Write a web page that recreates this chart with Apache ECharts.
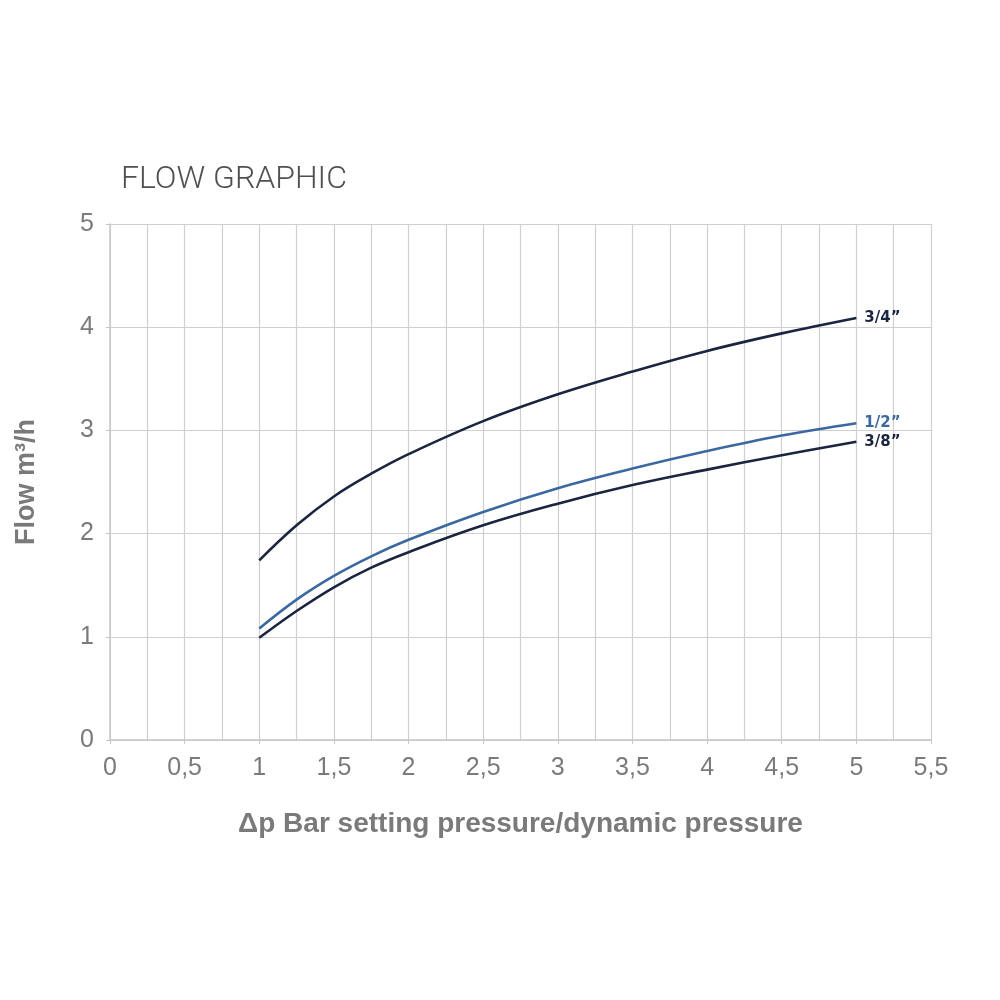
<!DOCTYPE html>
<html><head><meta charset="utf-8">
<script src="https://cdn.jsdelivr.net/npm/echarts@6/dist/echarts.min.js"></script>
<style>html,body{margin:0;padding:0;background:#fff}#c{width:1000px;height:1000px}</style>
</head><body><div id="c"></div>
<script>
const xValues = [1, 1.25, 1.5, 1.75, 2, 2.5, 3, 3.5, 4, 4.5, 5];
const flow34 = [1.74, 2.08, 2.36, 2.58, 2.77, 3.09, 3.35, 3.57, 3.77, 3.94, 4.09];
const flow12 = [1.08, 1.36, 1.59, 1.78, 1.94, 2.21, 2.44, 2.63, 2.80, 2.95, 3.07];
const flow38 = [0.99, 1.25, 1.48, 1.67, 1.82, 2.08, 2.29, 2.47, 2.62, 2.76, 2.89];
const seriesNames = ['3/4\u201d', '1/2\u201d', '3/8\u201d'];
const seriesColors = ['#1c2540', '#3b68a0', '#1c2540'];

const pair = (ys) => xValues.map((x, i) => [x, ys[i]]);
const allData = [flow34, flow12, flow38];

const chart = echarts.init(document.getElementById('c'));
chart.setOption({
  animation: false,
  title: {
    text: 'FLOW GRAPHIC', left: 116, top: 159,
    textStyle: { fontFamily: 'Roboto', fontWeight: 300, fontSize: 32, color: '#505050' }
  },
  grid: { left: 110, right: 69, top: 224, bottom: 260 },
  xAxis: {
    type: 'value', min: 0, max: 5.5, interval: 0.5,
    name: '\u0394p Bar setting pressure/dynamic pressure',
    nameLocation: 'middle', nameGap: 70,
    nameTextStyle: { fontFamily: 'Liberation Sans', fontWeight: 'bold', fontSize: 28, color: '#7a7a7a' },
    axisLine: { show: true, lineStyle: { color: '#c8c8c8', width: 1.5 } },
    axisTick: { show: true, length: 4, lineStyle: { color: '#c8c8c8' } },
    axisLabel: {
      margin: 16, fontFamily: 'Liberation Sans', fontSize: 25, color: '#7a7a7a',
      formatter: (v) => String(v).replace('.', ',')
    },
    splitLine: { show: true, lineStyle: { color: '#cfcfcf', width: 1.2 } },
    minorTick: { show: false, splitNumber: 2 },
    minorSplitLine: { show: true, lineStyle: { color: '#cfcfcf', width: 1.2 } }
  },
  yAxis: {
    type: 'value', min: 0, max: 5, interval: 1,
    name: 'Flow m\u00b3/h', nameLocation: 'middle', nameGap: 70, nameRotate: 90,
    nameTextStyle: { fontFamily: 'Liberation Sans', fontWeight: 'bold', fontSize: 27, color: '#7a7a7a' },
    axisLine: { show: true, lineStyle: { color: '#c8c8c8', width: 1.5 } },
    axisTick: { show: true, length: 4, lineStyle: { color: '#c8c8c8' } },
    axisLabel: { margin: 16, fontFamily: 'Liberation Sans', fontSize: 25, color: '#7a7a7a' },
    splitLine: { show: true, lineStyle: { color: '#cfcfcf', width: 1.2 } }
  },
  series: seriesNames.map((n, i) => ({
    name: n, type: 'line', smooth: 0.4, symbol: 'none',
    data: pair(allData[i]),
    lineStyle: { color: seriesColors[i], width: 2.6 },
    endLabel: {
      show: true, formatter: n, distance: 8,
      fontFamily: 'DejaVu Sans', fontWeight: 'bold', fontSize: 15, color: seriesColors[i]
    }
  }))
});
</script></body></html>
